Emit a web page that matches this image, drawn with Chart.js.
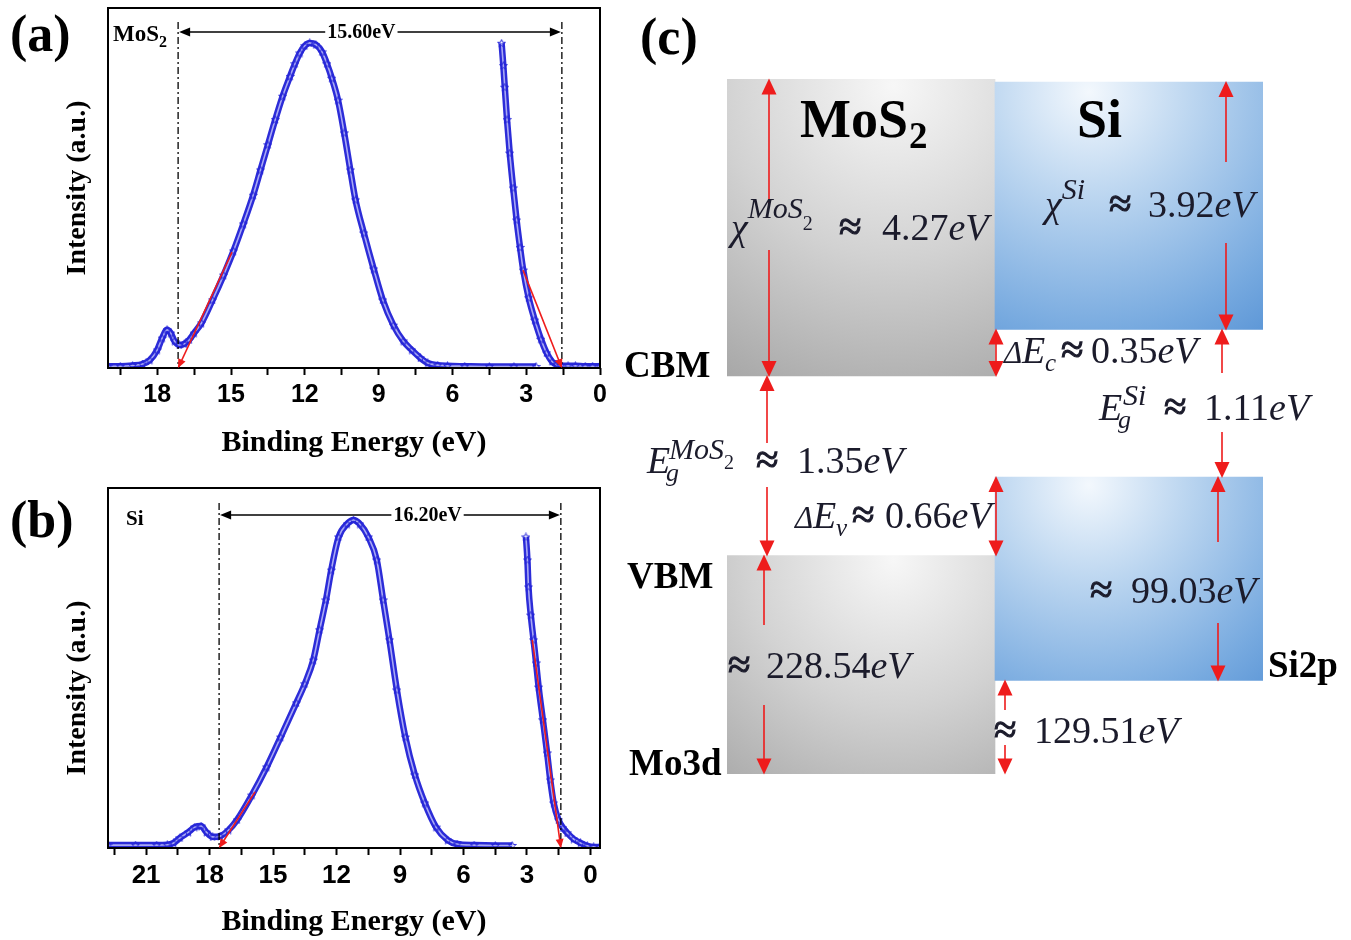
<!DOCTYPE html>
<html>
<head>
<meta charset="utf-8">
<title>UPS spectra and band alignment of MoS2/Si</title>
<script src="https://cdn.jsdelivr.net/npm/chart.js@4.4.1/dist/chart.umd.min.js"></script>
<style>
  html, body { margin: 0; padding: 0; background: #fff; }
  body { position: relative; width: 1351px; height: 940px; overflow: hidden; }
  canvas { position: absolute; }
</style>
</head>
<body>
<canvas id="ups_mos2" width="610" height="470" style="left:0px;top:0px"></canvas>
<canvas id="ups_si" width="610" height="470" style="left:0px;top:470px"></canvas>
<canvas id="bands" width="741" height="940" style="left:610px;top:0px"></canvas>
<script>
// (a) MoS2 UPS spectrum: secondary electron peak and valence band edge
const energyA = [20.0, 19.5, 19.0, 18.6, 18.3, 18.0, 17.8, 17.6, 17.45, 17.3, 17.1, 16.9, 16.7, 16.5, 16.2, 15.75, 15.3, 14.9, 14.5, 14.1, 13.8, 13.5, 13.2, 12.9, 12.6, 12.4, 12.2, 12.0, 11.8, 11.55, 11.3, 11.1, 10.9, 10.65, 10.4, 10.15, 9.94, 9.6, 9.2, 8.83, 8.4, 8.0, 7.65, 7.3, 7.0, 6.6, 6.2, 5.5, 4.5, 3.5, 2.6];
const intensityA = [0.5, 0.5, 0.7, 1.1, 2.2, 5.0, 8.3, 10.6, 9.7, 7.5, 6.4, 6.7, 7.8, 9.7, 12.5, 18.9, 25.8, 32.5, 40, 48, 55, 62, 69, 75.5, 81, 84.5, 87.5, 89.5, 90.3, 89.8, 87.8, 84.5, 80.5, 74.4, 65.3, 55, 46.7, 37.5, 27.5, 18.9, 11.9, 7.5, 5.0, 2.8, 1.4, 0.8, 0.6, 0.5, 0.4, 0.4, 0.4];
const edgeEnergyA = [4.0, 3.93, 3.87, 3.78, 3.67, 3.53, 3.39, 3.25, 3.12, 2.9, 2.65, 2.4, 2.17, 1.95, 1.76, 1.6, 1.3, 1.0, 0.6, 0.3, 0];
const edgeIntensityA = [90.2, 84, 78, 69, 59.7, 50, 41.1, 33.5, 27.2, 19.5, 13.3, 8, 4.2, 1.8, 0.9, 0.7, 0.6, 0.6, 0.5, 0.5, 0.5];
const cutoffA = [17.15, 1.55];
const tangentSecA = [[14.96, 32.2], [17.15, 0]];
const tangentValA = [[3.13, 27.2], [1.55, 0]];
const tickLabelsA = [18, 15, 12, 9, 6, 3, 0];

// (b) Si UPS spectrum
const energyB = [22.8, 21.5, 20.5, 20.0, 19.7, 19.4, 19.0, 18.7, 18.4, 18.15, 17.85, 17.5, 17.1, 16.7, 16.0, 15.3, 14.64, 13.9, 13.5, 13.1, 12.8, 12.5, 12.25, 11.9, 11.5, 11.2, 10.9, 10.5, 10.1, 9.8, 9.5, 9.15, 8.75, 8.3, 7.83, 7.3, 6.75, 6.3, 5.5, 4.5, 3.7];
const intensityB = [0.8, 0.8, 0.8, 0.9, 1.4, 2.8, 4.4, 5.8, 6.1, 4.4, 3.1, 3.3, 5.0, 7.8, 14.7, 22.5, 30.8, 40.3, 45.6, 52.2, 60.6, 68.9, 77.2, 86.4, 90, 91.1, 90, 86.4, 80, 68.9, 57.8, 43.9, 30.8, 20.3, 12.5, 5.8, 2.2, 1.1, 0.8, 0.7, 0.7];
const edgeEnergyB = [3.05, 2.98, 2.93, 2.82, 2.69, 2.57, 2.45, 2.25, 2.05, 1.9, 1.74, 1.51, 1.3, 1.1, 0.8, 0.47, 0.15, -0.15, -0.45];
const edgeIntensityB = [86.4, 80, 72.5, 64.7, 57.8, 51.4, 44.7, 35.6, 26.4, 18.9, 12.5, 7.8, 5.6, 4.2, 2.5, 1.4, 0.6, 0.3, 0.3];
const cutoffB = [17.55, 1.4];
const tangentSecB = [[15.85, 15.6], [17.55, 0]];
const tangentValB = [[2.75, 57.8], [1.4, 0]];
const tickLabelsB = [21, 18, 15, 12, 9, 6, 3, 0];

const widthLabels = ['15.60eV', '16.20eV'];

// (c) band diagram, levels in eV from the MoS2 CBM (vacuum and core levels drawn on a broken scale)
const bandMaterials = ['MoS2', 'Si'];
const vacuumDrawn = [2.23, 2.21];
const cbmLevel = [0, 0.35];
const vbmLevel = [-1.35, -0.76];
const coreDrawn = [-2.99, -2.29];
const affinity = ['4.27', '3.92'];
const bandGap = ['1.35', '1.11'];
const coreToVbm = ['228.54', '99.03'];
const bandOffsets = ['0.35', '0.66', '129.51'];

const SERIF = '"Liberation Serif", "Times New Roman", serif';
const RED = '#ee1c1c';

function starSprite(color) {
  const c = document.createElement('canvas');
  c.width = 9; c.height = 9;
  const g = c.getContext('2d');
  g.strokeStyle = color; g.lineWidth = 1;
  g.beginPath();
  for (let k = 0; k < 10; k++) {
    const r = k % 2 ? 1.8 : 4.1;
    const a = -Math.PI / 2 + k * Math.PI / 5;
    const px = 4.5 + r * Math.cos(a), py = 4.8 + r * Math.sin(a);
    if (k) g.lineTo(px, py); else g.moveTo(px, py);
  }
  g.closePath(); g.stroke();
  return c;
}
const STAR = starSprite('#2424d8');

function arrowHead(ctx, x, y, angle, len, half) {
  ctx.save();
  ctx.translate(x, y); ctx.rotate(angle);
  ctx.beginPath();
  ctx.moveTo(0, 0); ctx.lineTo(-len, -half); ctx.lineTo(-len, half);
  ctx.closePath(); ctx.fill();
  ctx.restore();
}

function spectrumSets(energy, intensity) {
  const pts = energy.map((e, i) => ({x: e, y: intensity[i]}));
  return [
    {data: pts, borderColor: '#2c2cd8', borderWidth: 6.5, pointRadius: 0, cubicInterpolationMode: 'monotone', order: 3},
    {data: pts, borderColor: '#a9a9f4', borderWidth: 1.6, pointStyle: STAR, pointRadius: 4, cubicInterpolationMode: 'monotone', order: 2}
  ];
}
function tangentSet(seg) {
  return {data: seg.map(p => ({x: p[0], y: p[1]})), tangent: true, borderColor: RED, borderWidth: 1.6, pointRadius: 0, order: 1};
}

// major ticks every 3 eV with a minor tick half-way
function tickList(labels, min, max) {
  const out = [];
  labels.forEach(v => {
    [v, v + 1.5].forEach(t => { if (t >= min && t <= max) out.push({value: t, major: t === v}); });
  });
  return out.sort((p, q) => p.value - q.value);
}

// frame, cut-off markers, width arrow and labels for the UPS panels
const upsDecor = {
  id: 'upsDecor',
  afterDatasetsDraw(chart, args, o) {
    const {ctx, chartArea: a, scales: {x}} = chart;
    ctx.save();
    ctx.strokeStyle = '#000'; ctx.lineWidth = 2;
    ctx.strokeRect(a.left, a.top, a.right - a.left, a.bottom - a.top);

    ctx.lineWidth = 1.3; ctx.setLineDash([7, 3, 2, 3]);
    o.cutoffs.forEach(v => {
      const px = x.getPixelForValue(v);
      ctx.beginPath(); ctx.moveTo(px, a.top + o.dashTop); ctx.lineTo(px, a.bottom); ctx.stroke();
    });
    ctx.setLineDash([]);

    const x1 = x.getPixelForValue(o.cutoffs[0]), x2 = x.getPixelForValue(o.cutoffs[1]);
    const ay = a.top + o.arrowY;
    ctx.fillStyle = '#000'; ctx.lineWidth = 1.5;
    ctx.beginPath(); ctx.moveTo(x1 + 4, ay); ctx.lineTo(x2 - 4, ay); ctx.stroke();
    arrowHead(ctx, x1 + 1, ay, Math.PI, 11, 4.5);
    arrowHead(ctx, x2 - 1, ay, 0, 11, 4.5);
    ctx.font = 'bold 20px ' + SERIF;
    ctx.textBaseline = 'middle'; ctx.textAlign = 'center';
    const lx = x.getPixelForValue(o.labelAt);
    const tw = ctx.measureText(o.label).width;
    ctx.fillStyle = '#fff'; ctx.fillRect(lx - tw / 2 - 2, ay - 9, tw + 4, 18);
    ctx.fillStyle = '#000'; ctx.fillText(o.label, lx, ay + 1);

    // y axis title
    ctx.save();
    ctx.translate(78, o.yTitleY); ctx.rotate(-Math.PI / 2);
    ctx.font = 'bold 28px ' + SERIF;
    ctx.fillText('Intensity (a.u.)', 0, 0);
    ctx.restore();

    ctx.textAlign = 'left'; ctx.textBaseline = 'alphabetic';
    ctx.font = 'bold ' + o.matSize + 'px ' + SERIF;
    ctx.fillText(o.material[0], o.matX, o.matY);
    if (o.material[1]) {
      const w = ctx.measureText(o.material[0]).width;
      ctx.font = 'bold 16px ' + SERIF;
      ctx.fillText(o.material[1], o.matX + w, o.matY + 6);
    }
    ctx.font = 'bold 52px ' + SERIF;
    ctx.fillText(o.panel, 10, o.panelY);

    ctx.fillStyle = RED;
    chart.data.datasets.forEach((ds, i) => {
      if (!ds.tangent) return;
      const pts = chart.getDatasetMeta(i).data;
      const p0 = pts[0], p1 = pts[pts.length - 1];
      arrowHead(ctx, p1.x, p1.y, Math.atan2(p1.y - p0.y, p1.x - p0.x), 9, 4);
    });
    ctx.restore();
  }
};

function upsChart(id, cfg) {
  return new Chart(document.getElementById(id), {
    type: 'line',
    data: {
      datasets: [
        ...spectrumSets(cfg.main[0], cfg.main[1]),
        ...spectrumSets(cfg.edge[0], cfg.edge[1]),
        tangentSet(cfg.tangents[0]), tangentSet(cfg.tangents[1])
      ]
    },
    options: {
      responsive: false, animation: false, devicePixelRatio: 1,
      layout: {padding: {top: cfg.top, right: 10, left: 0, bottom: 0}},
      plugins: {legend: {display: false}, tooltip: {enabled: false}, upsDecor: cfg.decor},
      scales: {
        x: {
          type: 'linear', reverse: true, min: cfg.min, max: cfg.max,
          afterFit: s => { s.height = cfg.xHeight; },
          afterBuildTicks: s => { s.ticks = tickList(cfg.ticks, cfg.min, cfg.max); },
          border: {display: false},
          grid: {drawOnChartArea: false, drawTicks: true, tickLength: 7, tickWidth: 2, tickColor: '#000'},
          ticks: {
            autoSkip: false, maxRotation: 0, color: '#000', padding: 5,
            font: {family: '"Liberation Sans", Arial, sans-serif', weight: 'bold', size: cfg.tickSize},
            callback: (v, i, ticks) => (ticks[i].major ? String(v) : '')
          },
          title: {display: true, text: 'Binding Energy (eV)', color: '#000',
                  font: {family: SERIF, weight: 'bold', size: 30}, padding: {top: 0, bottom: cfg.titlePad}}
        },
        y: {
          min: 0, max: 100,
          afterFit: s => { s.width = 108; },
          border: {display: false}, grid: {display: false}, ticks: {display: false}
        }
      }
    },
    plugins: [upsDecor]
  });
}

upsChart('ups_mos2', {
  main: [energyA, intensityA], edge: [edgeEnergyA, edgeIntensityA], ticks: tickLabelsA,
  tangents: [tangentSecA, tangentValA], min: 0, max: 20, top: 8, xHeight: 102, titlePad: 9, tickSize: 25,
  decor: {cutoffs: cutoffA, dashTop: 14, arrowY: 24, label: widthLabels[0], labelAt: 9.7, yTitleY: 188,
          material: ['MoS', '2'], matSize: 23, matX: 113, matY: 41, panel: '(a)', panelY: 51}
});
upsChart('ups_si', {
  main: [energyB, intensityB], edge: [edgeEnergyB, edgeIntensityB], ticks: tickLabelsB,
  tangents: [tangentSecB, tangentValB], min: -0.45, max: 22.8, top: 18, xHeight: 92, titlePad: 0, tickSize: 26,
  decor: {cutoffs: cutoffB, dashTop: 15, arrowY: 27, label: widthLabels[1], labelAt: 7.7, yTitleY: 218,
          material: ['Si'], matSize: 21, matX: 126, matY: 55, panel: '(b)', panelY: 67}
});

// ---- (c) band alignment ----
function bandFill(c) {
  const chart = c.chart;
  const xs = chart.scales.x, ys = chart.scales.y;
  if (!xs || !ys || !c.raw) return 'rgba(0,0,0,0)';
  const w = xs.width / bandMaterials.length;
  const left = xs.getPixelForValue(c.dataIndex) - w / 2;
  const top = ys.getPixelForValue(c.raw[1]), bottom = ys.getPixelForValue(c.raw[0]);
  const h = bottom - top;
  if (![w, left, top, h].every(Number.isFinite) || w <= 0 || h <= 0) return 'rgba(0,0,0,0)';
  const g2 = chart.ctx;
  let g;
  if (c.dataIndex === 0) {
    const cx = left + w * 0.62, cy = top + h * 0.02;
    g = g2.createRadialGradient(cx, cy, 0, cx, cy, Math.hypot(w, h) * 0.95);
    g.addColorStop(0, '#f7f7f7'); g.addColorStop(0.45, '#d2d2d2'); g.addColorStop(1, '#9c9c9c');
  } else {
    const cx = left + w * 0.35, cy = top + h * 0.04;
    g = g2.createRadialGradient(cx, cy, 0, cx, cy, Math.hypot(w, h) * 0.95);
    g.addColorStop(0, '#f3f8fd'); g.addColorStop(0.3, '#bcd6f0'); g.addColorStop(0.7, '#76a9df'); g.addColorStop(1, '#4787d0');
  }
  return g;
}

function mathRun(ctx, x0, base, runs) {
  let x = x0;
  runs.forEach(r => {
    if (r.at !== undefined) x = r.at;
    ctx.font = (r.st === 'i' ? 'italic ' : '') + r.s + 'px ' + SERIF;
    ctx.fillText(r.t, x, base + (r.dy || 0));
    if (r.t === '≈') { ctx.lineWidth = 1.1; ctx.strokeText(r.t, x, base); }
    x += ctx.measureText(r.t).width;
  });
}

const bandDecor = {
  id: 'bandDecor',
  afterDatasetsDraw(chart) {
    const {ctx, scales: {y}} = chart;
    const L = v => y.getPixelForValue(v);
    ctx.save();
    ctx.translate(-610, 0);

    // red level arrows: x, from level, to level, text gap
    const arrows = [
      [769, vacuumDrawn[0], cbmLevel[0], [203, 250]],
      [767, cbmLevel[0], vbmLevel[0], [443, 487]],
      [764, vbmLevel[0], coreDrawn[0], [625, 705]],
      [1226, vacuumDrawn[1], cbmLevel[1], [162, 243]],
      [1222, cbmLevel[1], vbmLevel[1], [373, 432]],
      [1218, vbmLevel[1], coreDrawn[1], [542, 623]],
      [996, cbmLevel[1], cbmLevel[0], null],
      [996, vbmLevel[1], vbmLevel[0], null],
      [1005, coreDrawn[1], coreDrawn[0], [710, 745]]
    ];
    ctx.strokeStyle = RED; ctx.fillStyle = RED; ctx.lineWidth = 1.6;
    arrows.forEach(([ax, v1, v2, gap]) => {
      const y1 = L(v1) - 1, y2 = L(v2) + 1;
      ctx.beginPath();
      if (gap) {
        ctx.moveTo(ax, y1 + 8); ctx.lineTo(ax, gap[0]);
        ctx.moveTo(ax, gap[1]); ctx.lineTo(ax, y2 - 8);
      } else {
        ctx.moveTo(ax, y1 + 8); ctx.lineTo(ax, y2 - 8);
      }
      ctx.stroke();
      arrowHead(ctx, ax, y1, -Math.PI / 2, 16, 7.5);
      arrowHead(ctx, ax, y2, Math.PI / 2, 16, 7.5);
    });

    // bold labels
    ctx.fillStyle = '#000'; ctx.textAlign = 'left'; ctx.textBaseline = 'alphabetic';
    ctx.font = 'bold 52px ' + SERIF; ctx.fillText('(c)', 640, 54);
    ctx.font = 'bold 54px ' + SERIF; ctx.fillText('MoS', 800, 137);
    const mw = ctx.measureText('MoS').width;
    ctx.fillText('Si', 1077, 137);
    ctx.font = 'bold 37px ' + SERIF; ctx.fillText('2', 800 + mw + 1, 148);
    ctx.fillText('CBM', 624, 377);
    ctx.fillText('VBM', 627, 588);
    ctx.fillText('Mo3d', 629, 775);
    ctx.fillText('Si2p', 1268, 677);

    // equation labels
    ctx.fillStyle = '#1b1b2b'; ctx.strokeStyle = '#1b1b2b';
    const S = 38, A = 41, P = 30;
    mathRun(ctx, 731, 240, [
      {t: 'χ', st: 'i', s: S}, {t: 'MoS', st: 'i', s: P, dy: -22}, {t: '2', st: 'u', s: 20, dy: -10},
      {t: '≈', st: 'u', s: A, at: 839}, {t: affinity[0], st: 'u', s: S, at: 882}, {t: 'eV', st: 'i', s: S}]);
    mathRun(ctx, 1045, 217, [
      {t: 'χ', st: 'i', s: S}, {t: 'Si', st: 'i', s: P, dy: -18},
      {t: '≈', st: 'u', s: A, at: 1109}, {t: affinity[1], st: 'u', s: S, at: 1148}, {t: 'eV', st: 'i', s: S}]);
    mathRun(ctx, 1004, 363, [
      {t: 'Δ', st: 'i', s: 31}, {t: 'E', st: 'i', s: S, at: 1022}, {t: 'c', st: 'i', s: 25, at: 1045, dy: 8},
      {t: '≈', st: 'u', s: A, at: 1061}, {t: bandOffsets[0], st: 'u', s: S, at: 1091}, {t: 'eV', st: 'i', s: S}]);
    mathRun(ctx, 647, 473, [
      {t: 'E', st: 'i', s: S}, {t: 'g', st: 'i', s: 26, at: 666, dy: 8},
      {t: 'MoS', st: 'i', s: P, at: 669, dy: -14}, {t: '2', st: 'u', s: 20, dy: -4},
      {t: '≈', st: 'u', s: A, at: 756}, {t: bandGap[0], st: 'u', s: S, at: 797}, {t: 'eV', st: 'i', s: S}]);
    mathRun(ctx, 1099, 420, [
      {t: 'E', st: 'i', s: S}, {t: 'g', st: 'i', s: 26, at: 1118, dy: 8},
      {t: 'Si', st: 'i', s: P, at: 1123, dy: -15},
      {t: '≈', st: 'u', s: A, at: 1164}, {t: bandGap[1], st: 'u', s: S, at: 1204}, {t: 'eV', st: 'i', s: S}]);
    mathRun(ctx, 795, 528, [
      {t: 'Δ', st: 'i', s: 31}, {t: 'E', st: 'i', s: S, at: 813}, {t: 'v', st: 'i', s: 25, at: 836, dy: 8},
      {t: '≈', st: 'u', s: A, at: 852}, {t: bandOffsets[1], st: 'u', s: S, at: 885}, {t: 'eV', st: 'i', s: S}]);
    mathRun(ctx, 728, 678, [
      {t: '≈', st: 'u', s: A}, {t: coreToVbm[0], st: 'u', s: S, at: 766}, {t: 'eV', st: 'i', s: S}]);
    mathRun(ctx, 1090, 603, [
      {t: '≈', st: 'u', s: A}, {t: coreToVbm[1], st: 'u', s: S, at: 1131}, {t: 'eV', st: 'i', s: S}]);
    mathRun(ctx, 994, 743, [
      {t: '≈', st: 'u', s: A}, {t: bandOffsets[2], st: 'u', s: S, at: 1034}, {t: 'eV', st: 'i', s: S}]);
    ctx.restore();
  }
};

new Chart(document.getElementById('bands'), {
  type: 'bar',
  data: {
    labels: bandMaterials,
    datasets: [
      {label: 'vacuum level to CBM', data: bandMaterials.map((m, i) => [cbmLevel[i], vacuumDrawn[i]]),
       backgroundColor: bandFill, grouped: false, categoryPercentage: 1, barPercentage: 1, borderWidth: 0},
      {label: 'VBM to core level', data: bandMaterials.map((m, i) => [coreDrawn[i], vbmLevel[i]]),
       backgroundColor: bandFill, grouped: false, categoryPercentage: 1, barPercentage: 1, borderWidth: 0}
    ]
  },
  options: {
    responsive: false, animation: false, devicePixelRatio: 1,
    layout: {padding: {left: 117, right: 88, top: 0, bottom: 0}},
    plugins: {legend: {display: false}, tooltip: {enabled: false}},
    scales: {
      x: {display: false},
      y: {display: false, min: -4.241, max: 2.827}
    }
  },
  plugins: [bandDecor]
});
</script>
</body>
</html>
